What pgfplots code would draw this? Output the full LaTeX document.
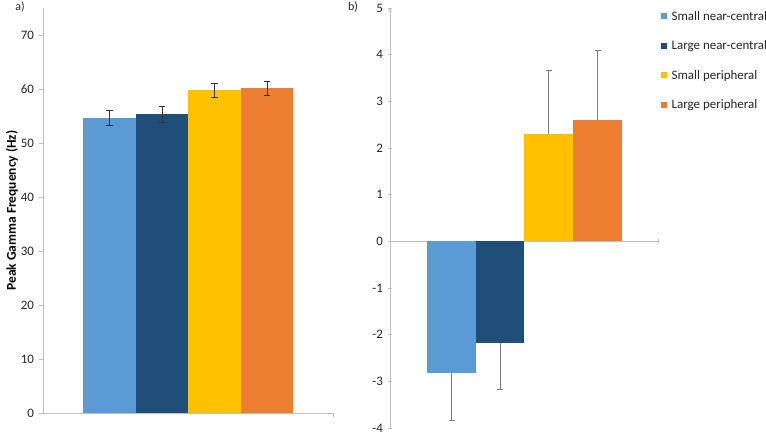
\documentclass[border=0pt]{standalone}
\usepackage{pgfplots}
\pgfplotsset{compat=1.18}
\usepackage{fontspec}
\setmainfont{Carlito}
\definecolor{c1}{HTML}{5B9BD5}
\definecolor{c2}{HTML}{1F4E79}
\definecolor{c3}{HTML}{FFC000}
\definecolor{c4}{HTML}{ED7D31}
\definecolor{axgray}{HTML}{BFBFBF}
\definecolor{errgray}{HTML}{7F7F7F}
\pgfplotsset{
  mystyle/.style={
    scale only axis, clip=false,
    axis line style={axgray, line width=0.75bp, -},
    tick style={axgray, line width=0.75bp},
    major tick length=4bp, tick align=outside,
    tick label style={font=\fontsize{13}{15}\selectfont, text=black!85},
    yticklabel style={xshift=-1.5bp},
    /pgf/number format/assume math mode=true,
    ybar, bar shift=0pt,
    hide obscured x ticks=false, hide obscured y ticks=false,
  }
}
\begin{document}
\begin{tikzpicture}
\path[use as bounding box] (0,0) rectangle (766bp,435bp);
\node[font=\fontsize{12}{14}\selectfont, text=black!85] at (20bp,428bp) {a)};
\node[font=\fontsize{12}{14}\selectfont, text=black!85] at (353bp,428bp) {b)};
% left panel
\begin{axis}[mystyle,
  at={(43bp,22bp)}, anchor=south west,
  width=290bp, height=405bp,
  xmin=0, xmax=290, ymin=0, ymax=75,
  ytick={0,10,...,70},
  axis x line*=bottom, axis y line*=left,
  xtick={290}, xticklabels={},
  bar width=52.5,
  ylabel={Peak Gamma Frequency (Hz)},
  ylabel style={font=\bfseries\fontsize{13.5}{15}\selectfont, at={(axis description cs:-0.107,0.5)}, anchor=center},
  error bars/error bar style={black!80, line width=0.6bp},
  error bars/error mark options={black!80, rotate=90, mark size=3bp, line width=0.6bp},
]
\addplot[fill=c1, draw=none, error bars/.cd, y dir=both, y explicit] coordinates {(66.5,54.6) +- (0,1.4)};
\addplot[fill=c2, draw=none, error bars/.cd, y dir=both, y explicit] coordinates {(119,55.3) +- (0,1.5)};
\addplot[fill=c3, draw=none, error bars/.cd, y dir=both, y explicit] coordinates {(171.5,59.8) +- (0,1.3)};
\addplot[fill=c4, draw=none, error bars/.cd, y dir=both, y explicit] coordinates {(224,60.1) +- (0,1.3)};
\end{axis}
% right panel
\begin{axis}[mystyle,
  at={(390bp,7bp)}, anchor=south west,
  width=268bp, height=420bp,
  xmin=0, xmax=268, ymin=-4, ymax=5,
  ytick={-4,-3,...,5},
  axis x line=middle, axis y line=left,
  x axis line style={-},
  every inner x axis line/.append style={-},
  xtick={268}, xticklabels={},
  bar width=48.6,
  error bars/error bar style={errgray, line width=0.75bp},
  error bars/error mark options={errgray, rotate=90, mark size=3bp, line width=0.75bp},
  legend style={at={(axis description cs:1.0,1.0)}, anchor=north west, draw=none, fill=none,
    font=\fontsize{13}{15}\selectfont, row sep=15bp, text=black!85, yshift=1bp},
  legend cell align=left,
  legend image code/.code={\fill[#1] (0bp,-3bp) rectangle (6bp,3bp); \path (8.5bp,0bp);},
]
\addplot[fill=c1, draw=none, error bars/.cd, y dir=minus, y explicit] coordinates {(61.5,-2.82) +- (0,1.01)};
\addlegendentry{Small near-central}
\addplot[fill=c2, draw=none, error bars/.cd, y dir=minus, y explicit] coordinates {(110,-2.17) +- (0,1.01)};
\addlegendentry{Large near-central}
\addplot[fill=c3, draw=none, error bars/.cd, y dir=plus, y explicit] coordinates {(158.5,2.31) +- (0,1.35)};
\addlegendentry{Small peripheral}
\addplot[fill=c4, draw=none, error bars/.cd, y dir=plus, y explicit] coordinates {(207.5,2.61) +- (0,1.49)};
\addlegendentry{Large peripheral}
\end{axis}
\end{tikzpicture}
\end{document}
